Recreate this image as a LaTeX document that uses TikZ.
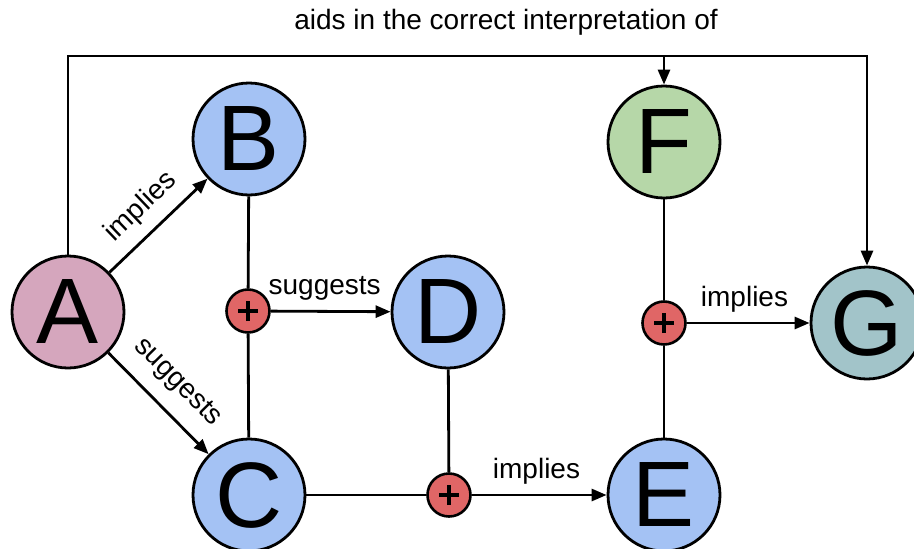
\documentclass[tikz,border=0pt]{standalone}
\usepackage{fontspec}
\setmainfont{Liberation Sans}
\usetikzlibrary{arrows.meta}
\definecolor{cpink}{HTML}{D5A6BD}
\definecolor{cblue}{HTML}{A4C2F4}
\definecolor{cgreen}{HTML}{B6D7A8}
\definecolor{ccyan}{HTML}{A2C4C9}
\definecolor{cred}{HTML}{E06666}
\begin{document}
\begin{tikzpicture}[x=1pt,y=-1pt,
  big/.style={circle,draw,line width=2.8pt,minimum size=112pt,inner sep=0pt,
    font=\fontsize{93}{93}\selectfont},
  plusnode/.style={circle,draw,fill=cred,line width=2.6pt,minimum size=43pt,inner sep=0pt},
  conn/.style={line width=2.8pt},
  arr/.style={conn,-{Triangle[length=15pt,width=12pt]}},
  lab/.style={font=\fontsize{28}{28}\selectfont,inner sep=2pt}]
\useasboundingbox (0,0) rectangle (914,549);
\node[big,fill=cpink] (A) at (68,312) {A};
\node[big,fill=cblue] (B) at (249,139) {B};
\node[big,fill=cblue] (C) at (249,495) {C};
\node[big,fill=cblue] (D) at (448,312) {D};
\node[big,fill=cblue] (E) at (664,495) {E};
\node[big,fill=cgreen] (F) at (664,142) {F};
\node[big,fill=ccyan] (G) at (867,323) {G};
\node[plusnode] (P1) at (248,311) {};
\node[plusnode] (P2) at (449,495) {};
\node[plusnode] (P3) at (664,323) {};
\foreach \p in {P1,P2,P3}{
  \draw[line width=3.4pt] ([xshift=-10pt]\p.center) -- ([xshift=10pt]\p.center);
  \draw[line width=3.4pt] ([yshift=-10pt]\p.center) -- ([yshift=10pt]\p.center);
}
\coordinate (TL) at (68,56);
\coordinate (TR) at (867,56);
\coordinate (TF) at (664,56);
\draw[arr] (A) -- node[lab,sloped,above=9pt,pos=0.5] {implies} (B);
\draw[arr] (A) -- node[lab,sloped,above=13pt,pos=0.49] {suggests} (C);
\draw[conn] (B) -- (P1);
\draw[conn] (P1) -- (C);
\draw[arr] (P1) -- node[lab,above=8pt,pos=0.45] {suggests} (D);
\draw[conn] (D) -- (P2);
\draw[conn] (C) -- (P2);
\draw[arr] (P2) -- node[lab,above=7pt,pos=0.48] {implies} (E);
\draw[conn] (F) -- (P3);
\draw[conn] (P3) -- (E);
\draw[arr] (P3) -- node[lab,above=7pt,pos=0.47] {implies} (G);
\draw[arr] (A.north) -- (TL) -- (TR) -- (G.north);
\draw[arr] (TF) -- (F.north);
\node[lab] (T) at (506,22) {aids in the correct interpretation of};
\end{tikzpicture}
\end{document}
